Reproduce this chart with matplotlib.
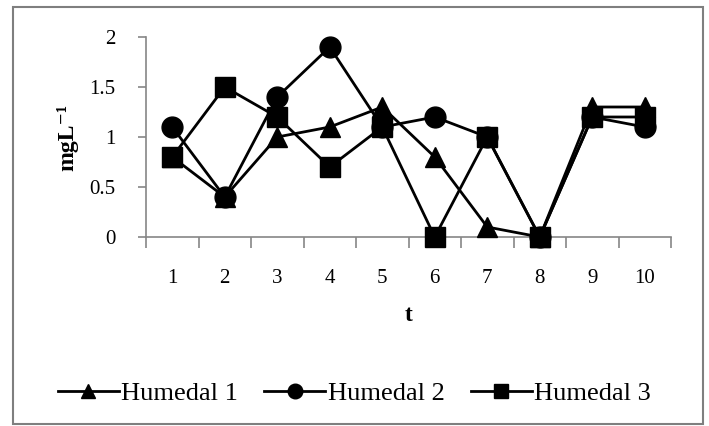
import numpy as np
import matplotlib.pyplot as plt
from matplotlib.patches import Rectangle

# data
t = [1, 2, 3, 4, 5, 6, 7, 8, 9, 10]
humedal1 = [0.8, 0.4, 1.0, 1.1, 1.3, 0.8, 0.1, 0.0, 1.3, 1.3]
humedal2 = [1.1, 0.4, 1.4, 1.9, 1.1, 1.2, 1.0, 0.0, 1.2, 1.1]
humedal3 = [0.8, 1.5, 1.2, 0.7, 1.1, 0.0, 1.0, 0.0, 1.2, 1.2]
yticks = [0, 0.5, 1, 1.5, 2]
ylabels = ['0', '0.5', '1', '1.5', '2']

plt.rcParams['font.family'] = ['Liberation Serif', 'DejaVu Serif']

W, H = 709, 426
fig = plt.figure(figsize=(W / 100, H / 100), dpi=100)
# axes box in pixels: x 146..671, y 37..237
ax = fig.add_axes([146 / W, 1 - 237 / H, (671 - 146) / W, 200 / H])

# outer frame
fig.patches.append(Rectangle((13 / W, 1 - 424 / H), 690 / W, 417 / H,
                             transform=fig.transFigure, fill=False,
                             edgecolor='#7f7f7f', linewidth=1.5))

ax.plot(t, humedal1, color='black', lw=2, marker='^', ms=14, label='Humedal 1', clip_on=False, zorder=3)
ax.plot(t, humedal2, color='black', lw=2, marker='o', ms=15, label='Humedal 2', clip_on=False, zorder=3)
ax.plot(t, humedal3, color='black', lw=2, marker='s', ms=14, label='Humedal 3', clip_on=False, zorder=4)

ax.set_xlim(0.5, 10.5)
ax.set_ylim(0, 2)
for s in ['top', 'right']:
    ax.spines[s].set_visible(False)
for s in ['left', 'bottom']:
    ax.spines[s].set_color('#868686')
    ax.spines[s].set_linewidth(1.2)

ax.set_yticks(yticks)
ax.set_yticklabels(ylabels, fontsize=15)
ax.tick_params(axis='y', length=6, color='#868686', width=1.2, pad=16)

# ticks at category borders, labels in the middle
ax.set_xticks(np.arange(0.5, 11, 1))
ax.set_xticklabels([])
ax.tick_params(axis='x', which='major', length=8, color='#868686', width=1.2)
ax.set_xticks(t, minor=True)
ax.set_xticklabels([str(v) for v in t], minor=True, fontsize=15)
ax.tick_params(axis='x', which='minor', length=0, pad=23)

ax.set_xlabel('t', fontsize=17, fontweight='bold', labelpad=12)
ax.set_ylabel('mgL⁻¹', fontsize=17, fontweight='bold', labelpad=8)

leg = fig.legend(loc='center', bbox_to_anchor=(0.5, 1 - 393 / H), ncol=3,
                 frameon=False, fontsize=19, handlelength=2.3, handletextpad=0.1,
                 columnspacing=1.0, markerscale=0.7)

fig.savefig('out.png', dpi=100)
